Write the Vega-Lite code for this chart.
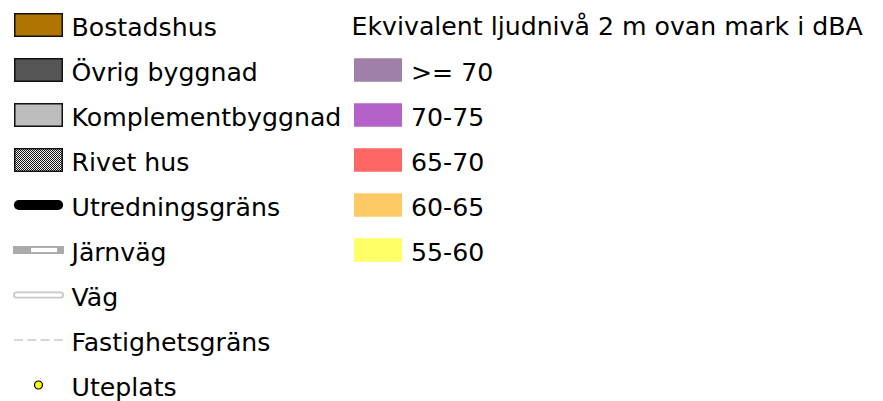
{
  "$schema": "https://vega.github.io/schema/vega-lite/v6.json",
  "width": 883,
  "height": 401,
  "autosize": {"type": "none"},
  "padding": 0,
  "background": "white",
  "config": {"view": {"stroke": null}},
  "data": {
    "values": [
      {"col": 0, "row": 0, "label": "Bostadshus", "kind": "building"},
      {"col": 0, "row": 1, "label": "Övrig byggnad", "kind": "building"},
      {"col": 0, "row": 2, "label": "Komplementbyggnad", "kind": "building"},
      {"col": 0, "row": 3, "label": "Rivet hus", "kind": "building"},
      {"col": 0, "row": 4, "label": "Utredningsgräns", "kind": "boundary"},
      {"col": 0, "row": 5, "label": "Järnväg", "kind": "railway"},
      {"col": 0, "row": 6, "label": "Väg", "kind": "road"},
      {"col": 0, "row": 7, "label": "Fastighetsgräns", "kind": "property"},
      {"col": 0, "row": 8, "label": "Uteplats", "kind": "patio"},
      {"col": 1, "row": 0, "label": "Ekvivalent ljudnivå 2 m ovan mark i dBA", "kind": "title"},
      {"col": 1, "row": 1, "label": ">= 70", "kind": "noise"},
      {"col": 1, "row": 2, "label": "70-75", "kind": "noise"},
      {"col": 1, "row": 3, "label": "65-70", "kind": "noise"},
      {"col": 1, "row": 4, "label": "60-65", "kind": "noise"},
      {"col": 1, "row": 5, "label": "55-60", "kind": "noise"}
    ]
  },
  "encoding": {
    "x": {"field": "col", "type": "quantitative", "scale": {"domain": [0, 1], "range": [38.5, 378]}, "axis": null},
    "y": {"field": "row", "type": "quantitative", "scale": {"domain": [0, 8], "range": [25, 385]}, "axis": null}
  },
  "layer": [
    {
      "transform": [{"filter": "datum.kind === 'building'"}],
      "mark": {"type": "point", "shape": "M-1,-0.474H1V0.474H-1Z", "size": 2256, "filled": true, "opacity": 1, "stroke": "#111111", "strokeWidth": 1.5},
      "encoding": {
        "fill": {"field": "label", "type": "nominal", "legend": null,
          "scale": {"domain": ["Bostadshus", "Övrig byggnad", "Komplementbyggnad", "Rivet hus", ">= 70", "70-75", "65-70", "60-65", "55-60"],
                    "range": ["#b07400", "#555555", "#bdbdbd", "#f4f4f4", "#a07fa8", "#b562c8", "#ff6666", "#ffc966", "#ffff66"]}}
      }
    },
    {
      "transform": [{"filter": "datum.label === 'Rivet hus'"}],
      "mark": {"type": "point", "size": 2256, "filled": false, "opacity": 1, "stroke": "#111111", "strokeWidth": 1, "strokeCap": "butt", "strokeDash": [1, 1],
        "shape": "M-0.989474,-0.442105H0.989474M-0.947368,-0.4H0.989474M-0.989474,-0.357895H0.989474M-0.947368,-0.315789H0.989474M-0.989474,-0.273684H0.989474M-0.947368,-0.231579H0.989474M-0.989474,-0.189474H0.989474M-0.947368,-0.147368H0.989474M-0.989474,-0.105263H0.989474M-0.947368,-0.063158H0.989474M-0.989474,-0.021053H0.989474M-0.947368,0.021053H0.989474M-0.989474,0.063158H0.989474M-0.947368,0.105263H0.989474M-0.989474,0.147368H0.989474M-0.947368,0.189474H0.989474M-0.989474,0.231579H0.989474M-0.947368,0.273684H0.989474M-0.989474,0.315789H0.989474M-0.947368,0.357895H0.989474M-0.989474,0.4H0.989474M-0.947368,0.442105H0.989474"},
      "encoding": {}
    },
    {
      "transform": [{"filter": "datum.kind === 'noise'"}],
      "mark": {"type": "point", "shape": "M-1,-0.49H1V0.49H-1Z", "size": 2304, "filled": true, "opacity": 1, "strokeWidth": 0},
      "encoding": {
        "fill": {"field": "label", "type": "nominal", "legend": null}
      }
    },
    {
      "transform": [{"filter": "datum.kind === 'boundary'"}],
      "mark": {"type": "point", "shape": "M-0.8,0H0.8", "size": 2401, "filled": false, "opacity": 1, "stroke": "#000000", "strokeWidth": 10, "strokeCap": "round"},
      "encoding": {}
    },
    {
      "transform": [{"filter": "datum.kind === 'railway'"}],
      "mark": {"type": "point", "shape": "M-1,0H1", "size": 2601, "filled": false, "opacity": 1, "stroke": "#aaaaaa", "strokeWidth": 8, "strokeCap": "butt"},
      "encoding": {}
    },
    {
      "transform": [{"filter": "datum.kind === 'railway'"}],
      "mark": {"type": "point", "shape": "M-0.29,0H0.73", "size": 2601, "filled": false, "opacity": 1, "stroke": "#ffffff", "strokeWidth": 4.2, "strokeCap": "butt"},
      "encoding": {}
    },
    {
      "transform": [{"filter": "datum.kind === 'road'"}],
      "mark": {"type": "point", "shape": "M-0.863,0H0.863", "size": 2601, "filled": false, "opacity": 1, "stroke": "#c8c8c8", "strokeWidth": 7, "strokeCap": "round"},
      "encoding": {}
    },
    {
      "transform": [{"filter": "datum.kind === 'road'"}],
      "mark": {"type": "point", "shape": "M-0.863,0H0.863", "size": 2601, "filled": false, "opacity": 1, "stroke": "#ffffff", "strokeWidth": 3.4, "strokeCap": "round"},
      "encoding": {}
    },
    {
      "transform": [{"filter": "datum.kind === 'property'"}],
      "mark": {"type": "point", "shape": "M-1,0H1", "size": 2401, "filled": false, "opacity": 1, "stroke": "#b0b0b0", "strokeWidth": 1.2, "strokeDash": [9, 4.3]},
      "encoding": {}
    },
    {
      "transform": [{"filter": "datum.kind === 'patio'"}],
      "mark": {"type": "point", "shape": "circle", "size": 64, "filled": true, "opacity": 1, "fill": "#ffff00", "stroke": "#000000", "strokeWidth": 1.2},
      "encoding": {}
    },
    {
      "transform": [{"filter": "datum.kind !== 'title'"}],
      "mark": {"type": "text", "align": "left", "baseline": "alphabetic", "dx": 33, "dy": 11, "font": "DejaVu Sans", "fontSize": 25.2, "color": "#000000"},
      "encoding": {"text": {"field": "label"}}
    },
    {
      "transform": [{"filter": "datum.kind === 'title'"}],
      "mark": {"type": "text", "align": "left", "baseline": "alphabetic", "dx": -26.4, "dy": 10, "font": "DejaVu Sans", "fontSize": 25.2, "color": "#000000"},
      "encoding": {"text": {"field": "label"}}
    }
  ]
}
